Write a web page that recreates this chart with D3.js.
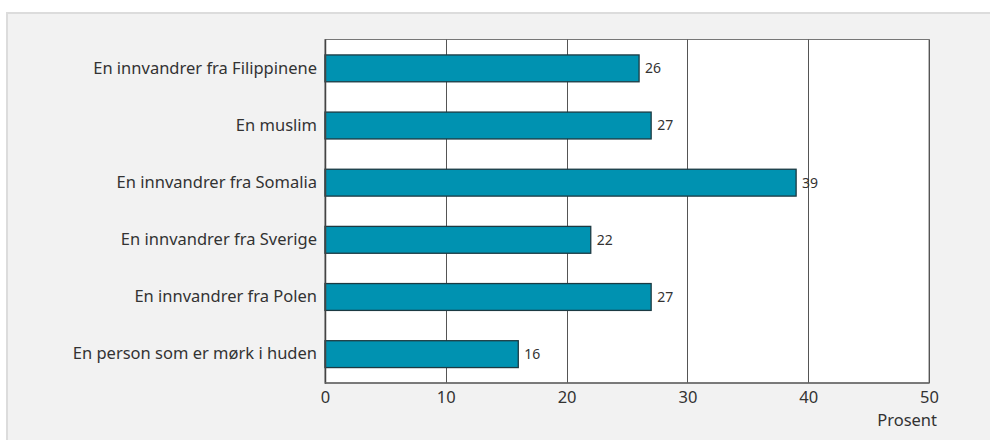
<!DOCTYPE html>
<html><head><meta charset="utf-8">
<script src="https://cdn.jsdelivr.net/npm/d3@7"></script>
<style>
html,body{margin:0;padding:0;background:#fff;}
svg{display:block;}
text{font-family:"Source Sans Pro","Noto Sans",sans-serif;fill:#333;}
</style></head><body>
<svg id="c" width="990" height="440"></svg>
<script>
const categories = ["En innvandrer fra Filippinene","En muslim","En innvandrer fra Somalia","En innvandrer fra Sverige","En innvandrer fra Polen","En person som er mørk i huden"];
const values = [26,27,39,22,27,16];
const xTicks = [0,10,20,30,40,50];
const xUnit = "Prosent";

const svg = d3.select("#c");
svg.append("rect").attr("x",7).attr("y",13).attr("width",990).attr("height",440)
  .attr("fill","#f2f2f2").attr("stroke","#dcdcdc").attr("stroke-width",2);

const L=325, R=929, T=39.5, B=383;
const x = d3.scaleLinear().domain([0,50]).range([L,R]);
const y = d3.scaleBand().domain(categories).range([T,B]).paddingInner(0.53).paddingOuter(0.27);

svg.append("rect").attr("x",L).attr("y",T).attr("width",R-L).attr("height",B-T).attr("fill","#fff")
  .attr("stroke","#777").attr("stroke-width",1);

svg.append("g").selectAll("line").data(xTicks.slice(1)).join("line")
  .attr("x1",d=>Math.round(x(d))+0.5).attr("x2",d=>Math.round(x(d))+0.5)
  .attr("y1",T).attr("y2",B).attr("stroke","#555").attr("stroke-width",1);

svg.append("g").selectAll("rect").data(values).join("rect")
  .attr("x",x(0)).attr("y",(d,i)=>y(categories[i]))
  .attr("width",d=>x(d)-x(0)).attr("height",y.bandwidth())
  .attr("fill","#0092b1").attr("stroke","#1c3a42").attr("stroke-width",1.3);

svg.append("g").selectAll("text").data(values).join("text")
  .attr("x",d=>x(d)+6).attr("y",(d,i)=>y(categories[i])+y.bandwidth()/2)
  .attr("dy","0.35em").attr("font-size",14).text(d=>d);

// axes
svg.append("line").attr("x1",L+0.5).attr("x2",L+0.5).attr("y1",T).attr("y2",B+1).attr("stroke","#444").attr("stroke-width",1.5);
svg.append("line").attr("x1",L).attr("x2",R+0.5).attr("y1",B).attr("y2",B).attr("stroke","#666").attr("stroke-width",1.5);

const fam = '"Source Sans Pro","Noto Sans",sans-serif';
const yAxis = d3.axisLeft(y).tickSize(0).tickPadding(8);
const gy = svg.append("g").attr("transform",`translate(${L},0)`).call(yAxis);
gy.select(".domain").remove();
gy.selectAll("text").attr("font-size",16.5).attr("fill","#333").style("font-family",fam);

const xAxis = d3.axisBottom(x).tickValues(xTicks).tickSize(0).tickPadding(8);
const gx = svg.append("g").attr("transform",`translate(0,${B})`).call(xAxis);
gx.select(".domain").remove();
gx.selectAll("text").attr("font-size",16.5).attr("fill","#333").style("font-family",fam);

svg.append("text").attr("x",937).attr("y",426).attr("text-anchor","end").attr("font-size",16.5).text(xUnit);
</script>
</body></html>
